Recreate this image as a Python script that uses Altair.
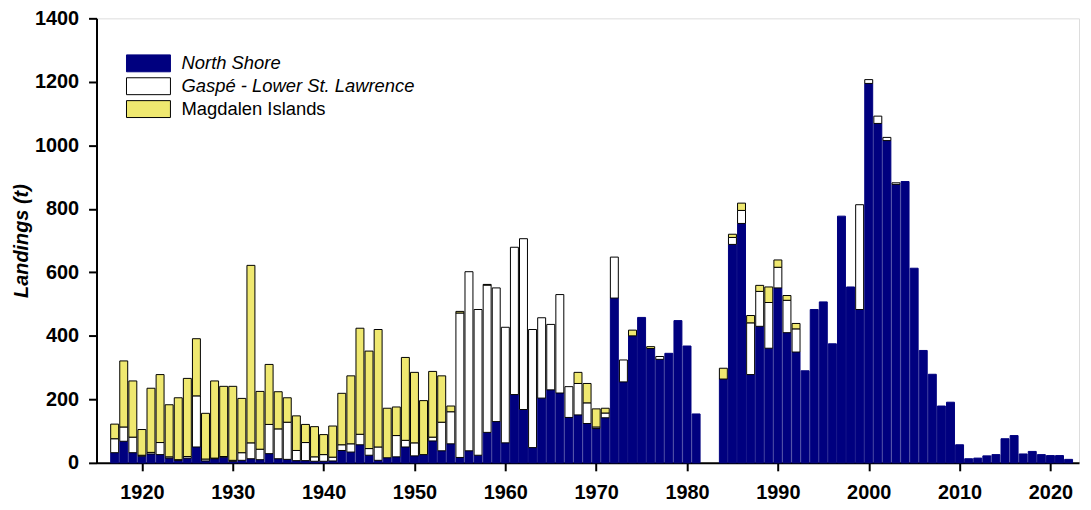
import altair as alt
import pandas as pd

years = list(range(1917, 2023))

north_shore = [
    32, 68, 32, 21, 28, 26, 15, 8, 15, 50,        # 1917-1926
    6, 13, 18, 5, 8, 13, 10, 29, 13, 11,          # 1927-1936
    7, 7, 5, 5, 6, 39, 34, 57, 24, 8,             # 1937-1946
    16, 19, 50, 22, 26, 69, 38, 60, 17, 38,       # 1947-1956
    24, 96, 130, 63, 215, 168, 48, 204, 230, 220, # 1957-1966
    143, 151, 124, 108, 142, 519, 255, 400, 458, 360,  # 1967-1976
    326, 345, 448, 368, 154, 0, 0, 264, 688, 754, # 1977-1986
    278, 430, 361, 551, 410, 349, 290, 483, 507, 375,  # 1987-1996
    777, 554, 483, 1195, 1069, 1015, 877, 886, 613, 354,  # 1997-2006
    279, 179, 191, 57, 13, 15, 22, 26, 76, 86,    # 2007-2016
    28, 36, 26, 23, 23, 11,                       # 2017-2022
]
gaspe = [
    44, 45, 49, 3, 5, 38, 4, 2, 5, 161,
    6, 2, 2, 3, 24, 50, 33, 92, 94, 117,
    32, 57, 14, 21, 12, 18, 26, 33, 21, 42,
    0, 67, 21, 41, 0, 12, 90, 101, 455, 564,
    459, 464, 421, 364, 464, 538, 372, 253, 206, 310,
    97, 99, 65, 5, 15, 129, 69, 0, 0, 0,
    9, 0, 0, 0, 0, 0, 0, 0, 22, 41,
    163, 110, 144, 65, 102, 73, 0, 0, 0, 0,
    0, 0, 330, 12, 23, 10, 5, 0, 0, 0,
    0, 0, 0, 0, 0, 0, 0, 0, 0, 0,
    0, 0, 0, 0, 0, 0,
]
magdalen = [
    46, 208, 177, 81, 202, 214, 164, 195, 246, 180,
    144, 243, 221, 233, 171, 559, 182, 189, 117, 77,
    109, 57, 95, 63, 98, 162, 214, 334, 307, 370,
    156, 90, 261, 222, 170, 207, 146, 18, 5, 0,
    0, 2, 0, 0, 0, 0, 0, 0, 0, 0,
    0, 35, 61, 57, 15, 0, 0, 18, 0, 6,
    0, 0, 0, 0, 0, 0, 0, 34, 10, 23,
    23, 19, 49, 23, 15, 17, 0, 0, 0, 0,
    0, 0, 0, 0, 0, 0, 0, 0, 0, 0,
    0, 0, 0, 0, 0, 0, 0, 0, 0, 0,
    0, 0, 0, 0, 0, 0,
]

series_names = ["North Shore", "Gaspé - Lower St. Lawrence", "Magdalen Islands"]
series_colors = ["#00007f", "#ffffff", "#efe870"]
series_strokes = ["#00007f", "#000000", "#000000"]

rows = []
for i, yr in enumerate(years):
    for k, vals in enumerate([north_shore, gaspe, magdalen]):
        if vals[i] > 0:
            rows.append({"year": yr, "series": series_names[k], "value": vals[i], "order": k})
df = pd.DataFrame(rows)

FONT = "Liberation Sans"

bars = alt.Chart(df).mark_bar(width=8, strokeWidth=1).encode(
    x=alt.X("year:Q",
            scale=alt.Scale(domain=[1915.55, 2022.6], nice=False, zero=False),
            axis=alt.Axis(values=list(range(1920, 2030, 10)), format="d", title=None,
                          grid=False, domainColor="black", domainWidth=2,
                          tickColor="black", tickWidth=2, tickSize=8,
                          labelFont=FONT, labelFontSize=20, labelFontWeight="bold",
                          labelColor="black", labelPadding=12)),
    y=alt.Y("value:Q", stack="zero",
            scale=alt.Scale(domain=[0, 1400], nice=False),
            axis=alt.Axis(values=list(range(0, 1600, 200)), format="d", title="Landings (t)",
                          grid=False, domainColor="black", domainWidth=2,
                          tickColor="black", tickWidth=2, tickSize=8,
                          labelFont=FONT, labelFontSize=20, labelFontWeight="bold",
                          labelColor="black", labelPadding=10,
                          titleFont=FONT, titleFontSize=20, titleFontWeight="bold",
                          titleFontStyle="italic", titleColor="black", titlePadding=3)),
    color=alt.Color("series:N",
                    scale=alt.Scale(domain=series_names, range=series_colors),
                    legend=alt.Legend(
                        title=None, orient="none", legendX=43, legendY=36,
                        symbolType="M-2.6,-1L2.6,-1L2.6,1L-2.6,1Z",
                        symbolSize=289, symbolStrokeColor="black", symbolStrokeWidth=1,
                        symbolOpacity=1,
                        labelFont=FONT, labelFontSize=18.5, labelColor="black",
                        labelFontStyle={"expr": "datum.label == 'Magdalen Islands' ? 'normal' : 'italic'"},
                        labelOffset=24, rowPadding=1, labelLimit=400)),
    stroke=alt.Stroke("series:N",
                      scale=alt.Scale(domain=series_names, range=series_strokes),
                      legend=None),
    order=alt.Order("order:Q"),
)

chart = bars.properties(
    width=988, height=447,
    autosize=alt.AutoSizeParams(type="none"),
    padding={"left": 89, "top": 9, "right": 4, "bottom": 44},
).configure_view(stroke=None).configure(background="white")

chart.save("out.html", embed_options={"renderer": "svg", "actions": False})
